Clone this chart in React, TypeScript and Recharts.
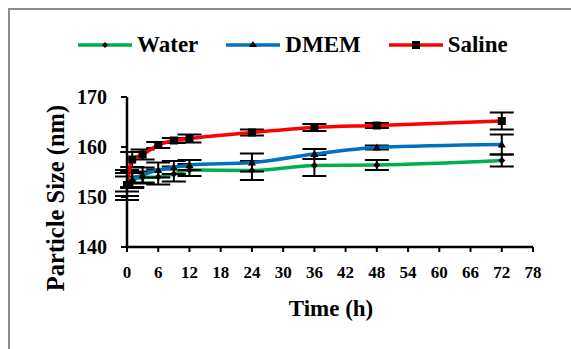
import { LineChart, Line, XAxis, YAxis, ErrorBar, Label } from 'recharts';

const times = [0, 1, 3, 6, 9, 12, 24, 36, 48, 72];
const water = [152.5, 153.3, 153.9, 154.0, 154.6, 155.4, 155.3, 156.3, 156.4, 157.3];
const waterErr = [2.3, 1.5, 1.2, 1.5, 1.5, 1.2, 1.9, 2.1, 1.0, 1.2];
const dmem = [152.6, 153.5, 154.4, 155.4, 155.9, 156.4, 156.9, 158.6, 159.9, 160.5];
const dmemErr = [1.5, 1.5, 1.5, 1.5, 1.3, 1.0, 1.8, 1.0, 0.4, 2.0];
const saline = [152.4, 157.5, 158.5, 160.4, 161.3, 161.7, 162.9, 163.9, 164.3, 165.2];
const salineErr = [3.0, 1.5, 1.0, 0.6, 0.5, 0.8, 0.6, 0.7, 0.5, 1.7];

const xTicks = [0, 6, 12, 18, 24, 30, 36, 42, 48, 54, 60, 66, 72, 78];
const yTicks = [140, 150, 160, 170];

const data = times.map((t, i) => ({
  t,
  water: water[i],
  waterErr: waterErr[i],
  dmem: dmem[i],
  dmemErr: dmemErr[i],
  saline: saline[i],
  salineErr: salineErr[i],
}));

const FONT = "'Liberation Serif', 'Times New Roman', serif";

const Diamond = (p: any) => {
  const { cx, cy } = p;
  if (cx == null || cy == null) return null;
  return <path key={p.index} d={`M${cx},${cy - 3.5}L${cx + 3.5},${cy}L${cx},${cy + 3.5}L${cx - 3.5},${cy}Z`} fill="#000" />;
};
const Triangle = (p: any) => {
  const { cx, cy } = p;
  if (cx == null || cy == null) return null;
  return <path key={p.index} d={`M${cx},${cy - 4}L${cx + 4},${cy + 3}L${cx - 4},${cy + 3}Z`} fill="#000" />;
};
const Square = (p: any) => {
  const { cx, cy } = p;
  if (cx == null || cy == null) return null;
  return <rect key={p.index} x={cx - 4} y={cy - 4} width={8} height={8} fill="#000" />;
};

const legendItems = [
  { name: 'Water', color: '#00b050', marker: 'diamond' },
  { name: 'DMEM', color: '#0070c0', marker: 'triangle' },
  { name: 'Saline', color: '#ff0000', marker: 'square' },
];

function MyLegend() {
  return (
    <div
      style={{
        position: 'absolute',
        left: 78,
        top: 31,
        display: 'flex',
        gap: 28,
        fontFamily: FONT,
        fontWeight: 'bold',
        fontSize: 23,
        lineHeight: '28px',
        color: '#000',
      }}
    >
      {legendItems.map((it) => (
        <div key={it.name} style={{ display: 'flex', alignItems: 'center' }}>
          <svg width={54} height={12} style={{ marginRight: 5 }}>
            <line x1={0} y1={6} x2={54} y2={6} stroke={it.color} strokeWidth={3.5} />
            {it.marker === 'diamond' && <path d="M27,3L30,6L27,9L24,6Z" fill="#000" />}
            {it.marker === 'triangle' && <path d="M27,2L31,8L23,8Z" fill="#000" />}
            {it.marker === 'square' && <rect x={23} y={2} width={8} height={8} fill="#000" />}
          </svg>
          <span>{it.name}</span>
        </div>
      ))}
    </div>
  );
}

export default function App() {
  return (
    <div style={{ position: 'absolute', left: 0, top: 0, width: 571, height: 349, background: '#fff', overflow: 'hidden' }}>
      <div style={{ position: 'absolute', left: 8, top: 8, width: 600, height: 400, borderTop: '2px solid #8c8c8c', borderLeft: '2px solid #8c8c8c' }} />
      <MyLegend />
      <div style={{ position: 'absolute', left: 0, top: 0 }}>
        <LineChart width={571} height={349} data={data} margin={{ top: 97, right: 38, left: 0, bottom: 0 }}>
          <XAxis
            type="number"
            dataKey="t"
            domain={[0, 78]}
            ticks={xTicks}
            height={102}
            axisLine={{ stroke: '#000', strokeWidth: 2.5 }}
            tickLine={{ stroke: '#000', strokeWidth: 2 }}
            tickSize={5}
            tickMargin={14}
            tick={{ fill: '#000', fontFamily: FONT, fontWeight: 'bold', fontSize: 17 }}
            interval={0}
          >
            <Label
              content={() => (
                <text x={331} y={316} textAnchor="middle" fontFamily={FONT} fontWeight="bold" fontSize={23} fill="#000">
                  Time (h)
                </text>
              )}
            />
          </XAxis>
          <YAxis
            domain={[140, 170]}
            ticks={yTicks}
            width={127}
            axisLine={{ stroke: '#000', strokeWidth: 2.5 }}
            tickLine={{ stroke: '#000', strokeWidth: 2 }}
            tickSize={6}
            tickMargin={14}
            tick={{ fill: '#000', fontFamily: FONT, fontWeight: 'bold', fontSize: 20 }}
            interval={0}
          >
            <Label
              content={() => (
                <text
                  x={64}
                  y={198}
                  textAnchor="middle"
                  transform="rotate(-90 64 198)"
                  fontFamily={FONT}
                  fontWeight="bold"
                  fontSize={24.5}
                  fill="#000"
                >
                  Particle Size (nm)
                </text>
              )}
            />
          </YAxis>
          <Line type="monotone" dataKey="water" stroke="#00b050" strokeWidth={3.5} dot={<Diamond />} activeDot={false} isAnimationActive={false}>
            <ErrorBar dataKey="waterErr" stroke="#000" strokeWidth={2} width={12} />
          </Line>
          <Line type="monotone" dataKey="dmem" stroke="#0070c0" strokeWidth={3.5} dot={<Triangle />} activeDot={false} isAnimationActive={false}>
            <ErrorBar dataKey="dmemErr" stroke="#000" strokeWidth={2} width={12} />
          </Line>
          <Line type="monotone" dataKey="saline" stroke="#ff0000" strokeWidth={3.5} dot={<Square />} activeDot={false} isAnimationActive={false}>
            <ErrorBar dataKey="salineErr" stroke="#000" strokeWidth={2} width={12} />
          </Line>
        </LineChart>
      </div>
    </div>
  );
}
